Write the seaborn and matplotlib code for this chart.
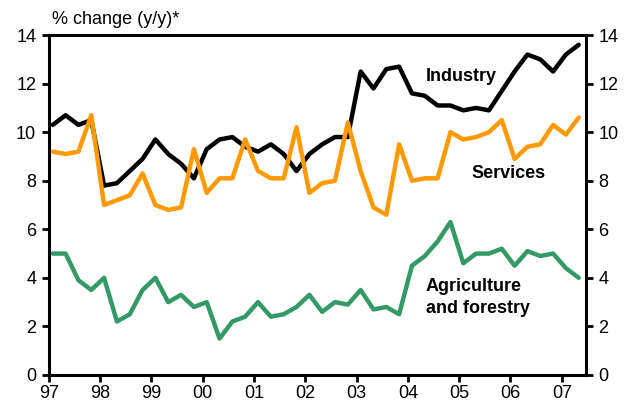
import matplotlib
matplotlib.use("Agg")
import matplotlib.pyplot as plt
import numpy as np
import pandas as pd
import seaborn as sns

# quarterly data, 1997Q1 .. 2007Q2
years = list(range(1997, 2008))
year_labels = ['97', '98', '99', '00', '01', '02', '03', '04', '05', '06', '07']

industry = [10.3, 10.7, 10.3, 10.5, 7.8, 7.9, 8.4, 8.9, 9.7, 9.1, 8.7, 8.1,
            9.3, 9.7, 9.8, 9.4, 9.2, 9.5, 9.1, 8.4, 9.1, 9.5, 9.8, 9.8,
            12.5, 11.8, 12.6, 12.7, 11.6, 11.5, 11.1, 11.1, 10.9, 11.0, 10.9, 11.7,
            12.5, 13.2, 13.0, 12.5, 13.2, 13.6]
services = [9.2, 9.1, 9.2, 10.7, 7.0, 7.2, 7.4, 8.3, 7.0, 6.8, 6.9, 9.3,
            7.5, 8.1, 8.1, 9.7, 8.4, 8.1, 8.1, 10.2, 7.5, 7.9, 8.0, 10.4,
            8.4, 6.9, 6.6, 9.5, 8.0, 8.1, 8.1, 10.0, 9.7, 9.8, 10.0, 10.5,
            8.9, 9.4, 9.5, 10.3, 9.9, 10.6]
agriculture = [5.0, 5.0, 3.9, 3.5, 4.0, 2.2, 2.5, 3.5, 4.0, 3.0, 3.3, 2.8,
               3.0, 1.5, 2.2, 2.4, 3.0, 2.4, 2.5, 2.8, 3.3, 2.6, 3.0, 2.9,
               3.5, 2.7, 2.8, 2.5, 4.5, 4.9, 5.5, 6.3, 4.6, 5.0, 5.0, 5.2,
               4.5, 5.1, 4.9, 5.0, 4.4, 4.0]

n = len(industry)
t = [1997 + 0.08 + 0.25 * i for i in range(n)]

df = pd.DataFrame({
    't': t * 3,
    'value': industry + services + agriculture,
    'sector': ['Industry'] * n + ['Services'] * n + ['Agriculture'] * n,
})

sns.set_style("white")
plt.rcParams['font.family'] = ['Liberation Sans', 'DejaVu Sans']
plt.rcParams['text.color'] = 'black'
plt.rcParams['xtick.color'] = 'black'
plt.rcParams['ytick.color'] = 'black'

fig = plt.figure(figsize=(6.28, 4.08), dpi=100)
ax = fig.add_axes([0.0775, 0.081, 0.8555, 0.833])

palette = {'Industry': '#000000', 'Services': '#FF9900', 'Agriculture': '#339966'}
sns.lineplot(data=df, x='t', y='value', hue='sector', palette=palette,
             linewidth=3.2, legend=False, ax=ax)

ax.set_xlim(1997, 2007.47)
ax.set_ylim(0, 14)
ax.set_xticks(years)
ax.set_xticklabels(year_labels)
ax.set_yticks(range(0, 15, 2))
ax.set_xlabel('')
ax.set_ylabel('')

for s in ax.spines.values():
    s.set_visible(True)
    s.set_color('black')
    s.set_linewidth(2.2)

ax.tick_params(axis='y', which='both', left=True, right=True, labelleft=True,
               labelright=True, direction='out', length=5, width=2,
               labelsize=13, pad=4)
ax.tick_params(axis='x', bottom=True, direction='out', length=5, width=2,
               labelsize=13, pad=2)

fig.text(0.083, 0.951, '% change (y/y)*', fontsize=13, va='center', ha='left')

ax.text(2004.35, 12.3, 'Industry', fontsize=13, fontweight='bold', va='center')
ax.text(2005.23, 8.3, 'Services', fontsize=13, fontweight='bold', va='center')
ax.text(2004.35, 3.2, 'Agriculture\nand forestry', fontsize=13,
        fontweight='bold', va='center', linespacing=1.4)

fig.savefig('out.png', dpi=100)
